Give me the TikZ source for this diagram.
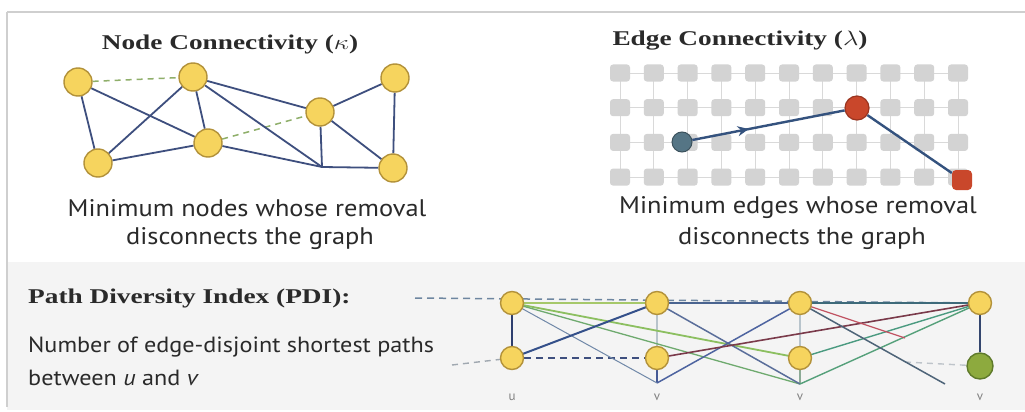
\documentclass[tikz,border=0pt]{standalone}
\usepackage{fontspec}
\setmainfont{Liberation Serif}
\setsansfont{PT Sans}
\usepackage{graphicx}
\usetikzlibrary{arrows.meta,decorations.markings}
\pgfdeclarelayer{bg}
\pgfdeclarelayer{edges}
\pgfsetlayers{bg,edges,main}
\definecolor{edgeblue}{HTML}{3E4F7E}
\definecolor{nodefill}{HTML}{F6D45E}
\definecolor{nodedraw}{HTML}{B3923A}
\definecolor{dashgreen}{HTML}{8FAF6A}
\definecolor{gridsq}{HTML}{D3D3D3}
\definecolor{gridln}{HTML}{D9D9D9}
\definecolor{pathblue}{HTML}{34527E}
\definecolor{bluenode}{HTML}{557585}
\definecolor{rednode}{HTML}{C9472B}
\definecolor{reddraw}{HTML}{9A3520}
\definecolor{panelbg}{HTML}{F4F4F4}
\definecolor{bordergray}{HTML}{CFCFCF}
\definecolor{greennode}{HTML}{8DAA3E}
\definecolor{greendraw}{HTML}{5E7A2A}
\definecolor{txtgray}{HTML}{2A2A2A}
\tikzset{
  ynode/.style={circle, fill=nodefill, draw=nodedraw, line width=1.4pt, minimum size=28pt, inner sep=0pt},
  snode/.style={ynode, minimum size=23pt},
  gedge/.style={edgeblue, line width=1.8pt},
  cutedge/.style={dashgreen, line width=1.5pt, dash pattern=on 6pt off 5pt},
  gsq/.style={rectangle, rounded corners=3pt, fill=gridsq, minimum width=20pt, minimum height=17pt, inner sep=0pt},
  gline/.style={gridln, line width=0.9pt},
  redpath/.style={pathblue, line width=2.4pt},
  midarrow/.style={postaction={decorate}, decoration={markings, mark=at position 0.37 with {\arrow{Stealth[length=11pt,width=10pt]}}}},
  ttl/.style={font=\fontsize{21}{24}\selectfont\bfseries, text=txtgray, inner sep=0pt},
  captxt/.style={font=\sffamily\fontsize{24}{27}\selectfont, text=txtgray, inner sep=0pt},
  desctxt/.style={font=\sffamily\fontsize{22}{25}\selectfont, text=txtgray, inner sep=0pt, anchor=west},
  lbl/.style={font=\sffamily\fontsize{13}{14}\selectfont, text=gray, inner sep=0pt},
}
\begin{document}
\begin{tikzpicture}[x=1pt,y=-1pt]
\useasboundingbox (0,0) rectangle (1025,412);
\begin{pgfonlayer}{bg}
\fill[white] (0,0) rectangle (1025,412);
\fill[panelbg] (7,262) rectangle (1025,410);
\draw[bordergray, line width=2pt] (7,12) -- (1025,12);
\draw[bordergray, line width=1.5pt] (7,12) -- (7,407);
\end{pgfonlayer}

% ---------- Node connectivity ----------
\node[ttl] (t1) at (230,44) {\scalebox{1.3}[1]{Node Connectivity ($\kappa$)}};
\node[ynode] (A) at (78,82) {};
\node[ynode] (B) at (193,77) {};
\node[ynode] (C) at (395,78) {};
\node[ynode] (D) at (320,112) {};
\node[ynode] (E) at (208,143) {};
\node[ynode] (F) at (98,163) {};
\node[ynode] (G) at (393,168) {};
\coordinate (J) at (322,167);
\begin{pgfonlayer}{edges}
\draw[cutedge] (A) -- (B);
\draw[cutedge] (E) -- (D);
\draw[gedge] (A) -- (F);
\draw[gedge] (A) -- (E);
\draw[gedge] (F) -- (B);
\draw[gedge] (F) -- (E);
\draw[gedge] (B) -- (E);
\draw[gedge] (B) -- (D);
\draw[gedge] (B) -- (J);
\draw[gedge] (E) -- (J);
\draw[gedge] (D) -- (J);
\draw[gedge] (D) -- (G);
\draw[gedge] (D) -- (C);
\draw[gedge] (C) -- (G);
\draw[gedge] (J) -- (G);
\end{pgfonlayer}
\node[captxt] (c1a) at (247,208) {\scalebox{1.1}[1]{Minimum nodes whose removal}};
\node[captxt] (c1b) at (250,239) {\scalebox{1.1}[1]{disconnects the graph}};

% ---------- Edge connectivity ----------
\node[ttl] (t2) at (740,41) {\scalebox{1.3}[1]{Edge Connectivity ($\lambda$)}};
\foreach \i in {0,...,10}{
  \foreach \j in {0,...,3}{
    \node[gsq] (g-\i-\j) at ({620+33.8*\i},{73+34.7*\j}) {};
  }
}
\begin{pgfonlayer}{edges}
\foreach \j in {0,...,3}{ \draw[gline] (g-0-\j.center) -- (g-10-\j.center); }
\foreach \i in {0,...,10}{ \draw[gline] (g-\i-0.center) -- (g-\i-3.center); }
\end{pgfonlayer}
\node[circle, fill=bluenode, draw=bluenode!70!black, line width=1pt, minimum size=20pt, inner sep=0pt] (s) at (682,142) {};
\node[circle, fill=rednode, draw=reddraw, line width=1.2pt, minimum size=24pt, inner sep=0pt] (m) at (857,108) {};
\node[rectangle, rounded corners=4pt, fill=rednode, minimum size=20pt, inner sep=0pt] (t) at (962,180) {};
\draw[redpath, midarrow] (s) -- (m);
\draw[redpath] (m) -- (t);
\node[captxt] (c2a) at (798,208) {\scalebox{1.1}[1]{Minimum edges whose removal}};
\node[captxt] (c2b) at (802,239) {\scalebox{1.1}[1]{disconnects the graph}};

% ---------- Path diversity ----------
\node[ttl, anchor=west] (t3) at (28,298) {\scalebox{1.3}[1]{Path Diversity Index (PDI):}};
\node[desctxt] (d1) at (28,347) {\scalebox{1.1}[1]{Number of edge-disjoint shortest paths}};
\node[desctxt] (d2) at (28,378) {\scalebox{1.1}[1]{between \textit{u} and \textit{v}}};

\node[snode] (u1) at (512,303) {};
\node[snode] (u2) at (512,358) {};
\node[snode] (v1) at (657,303) {};
\node[snode] (v2) at (657,358) {};
\node[snode] (w1) at (800,303) {};
\node[snode] (w2) at (800,358) {};
\node[snode] (x1) at (980,303) {};
\node[circle, fill=greennode, draw=greendraw, line width=1.4pt, minimum size=26pt, inner sep=0pt] (x2) at (980,366) {};
\coordinate (AV) at (657,383); \coordinate (AW) at (800,384);
\coordinate (L0) at (415,298); \coordinate (L1) at (452,365);
\coordinate (E1) at (945,384); \coordinate (E2) at (905,338);
\coordinate (E3) at (905,362);
\begin{pgfonlayer}{edges}
\draw[color={rgb,255:red,110;green,134;blue,160}, line width=1.5pt, dash pattern=on 7pt off 5pt] (L0) -- (x1.center);
\draw[color={rgb,255:red,160;green,168;blue,176}, line width=1.4pt, dash pattern=on 6pt off 5pt] (L1) -- (u2.center);
\draw[color={rgb,255:red,190;green,196;blue,202}, line width=1.4pt, dash pattern=on 6pt off 5pt] (E3) -- (x2.center);
\draw[edgeblue, line width=2pt, dash pattern=on 7pt off 5pt] (u2) -- (v2);
\draw[color={rgb,255:red,46;green,62;blue,110}, line width=2.2pt] (u1) -- (u2);
\draw[color={rgb,255:red,184;green,196;blue,204}, line width=1.3pt] (v1) -- (v2);
\draw[color={rgb,255:red,184;green,196;blue,204}, line width=1.3pt] (w1) -- (w2);
\draw[color={rgb,255:red,52;green,70;blue,110}, line width=2.2pt] (x1) -- (x2);
\draw[color={rgb,255:red,70;green,90;blue,150}, line width=1.6pt] (v2.center) -- (AV);
\draw[color={rgb,255:red,140;green,170;blue,150}, line width=1.3pt] (w2.center) -- (AW);
\draw[color={rgb,255:red,166;green,200;blue,106}, line width=2.4pt] (u1.center) -- (v1.center);
\draw[color={rgb,255:red,140;green,191;blue,96}, line width=1.8pt] (u1.center) -- (w2.center);
\draw[color={rgb,255:red,110;green,170;blue,110}, line width=1.3pt] (u1.center) -- (AW);
\draw[color={rgb,255:red,112;green,136;blue,168}, line width=1pt] (u1.center) -- (AV);
\draw[color={rgb,255:red,52;green,80;blue,138}, line width=2pt] (u2.center) -- (v1.center);
\draw[color={rgb,255:red,74;green,100;blue,144}, line width=2pt] (v1.center) -- (w1.center);
\draw[color={rgb,255:red,90;green,110;blue,154}, line width=1.5pt] (v1.center) -- (AW);
\draw[color={rgb,255:red,78;green,100;blue,160}, line width=1.5pt] (AV) -- (w1.center);
\draw[color={rgb,255:red,122;green,58;blue,74}, line width=1.6pt] (v2.center) -- (x1.center);
\draw[color={rgb,255:red,62;green,106;blue,122}, line width=2pt] (w1.center) -- (x1.center);
\draw[color={rgb,255:red,74;green,154;blue,128}, line width=1.4pt] (w2.center) -- (x1.center);
\draw[color={rgb,255:red,85;green,160;blue,122}, line width=1.4pt] (AW) -- (x1.center);
\draw[color={rgb,255:red,78;green,100;blue,120}, line width=1.5pt] (w1.center) -- (E1);
\draw[color={rgb,255:red,192;green,80;blue,96}, line width=1.2pt] (w1.center) -- (E2);
\end{pgfonlayer}
\node[lbl] (lu) at (512,397) {u};
\node[lbl] (lv) at (657,397) {v};
\node[lbl] (lw) at (800,397) {v};
\node[lbl] (lx) at (980,397) {v};
\end{tikzpicture}
\end{document}
